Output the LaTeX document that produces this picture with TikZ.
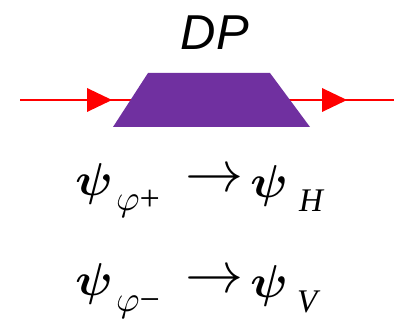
\documentclass[tikz,border=0pt]{standalone}
\usepackage{bm}
\usepackage{fontspec}
\setmainfont{Liberation Serif}
\newfontfamily\dpfont{Liberation Sans}
\definecolor{dppurple}{RGB}{112,48,160}
\definecolor{beamred}{RGB}{255,0,0}
\newcommand{\bigpsi}{\scalebox{4.7}[4.6]{$\bm{\psi}$}}
\newcommand{\subphi}[1]{\scalebox{3.6}{$\varphi$#1}}
\newcommand{\bigarrow}{\scalebox{5.8}{$\rightarrow$}}
\begin{document}
\begin{tikzpicture}[x=1pt,y=-1pt,
  beam/.style={draw=beamred,line width=2.6pt},
  tip/.style={fill=beamred},
  big/.style={inner sep=0,anchor=center},
  sub/.style={inner sep=0,anchor=base west},
  lab/.style={inner sep=0,anchor=base west,font=\fontsize{33}{33}\selectfont\itshape},
  arr/.style={inner sep=0,anchor=center}]
\useasboundingbox (0,0) rectangle (394,320);
\coordinate (bin) at (20,100);
\coordinate (bout) at (394,100);
\draw[beam] (bin) -- (bout);
\fill[tip] (87,88) -- (112,100) -- (87,112) -- cycle;
\fill[tip] (322,88) -- (347,100) -- (322,112) -- cycle;
\fill[dppurple] (148,73) -- (270,73) -- (310,127) -- (113,127) -- cycle;
\node[inner sep=0,font=\fontsize{49}{49}\selectfont\dpfont\itshape] (dp) at (215,33) {DP};
% line 1
\node[big] (p1) at (94,184) {\bigpsi};
\node[sub] (s1) at (116,211) {\subphi{+}};
\node[arr] (a1) at (214,181) {\bigarrow};
\node[big] (q1) at (269,186) {\bigpsi};
\node[lab] (h1) at (299,212) {H};
% line 2
\node[big] (p2) at (94,284) {\bigpsi};
\node[sub] (s2) at (116,312) {\subphi{−}};
\node[arr] (a2) at (214,282) {\bigarrow};
\node[big] (q2) at (269,286) {\bigpsi};
\node[lab] (v2) at (297,313) {V};
\end{tikzpicture}
\end{document}
